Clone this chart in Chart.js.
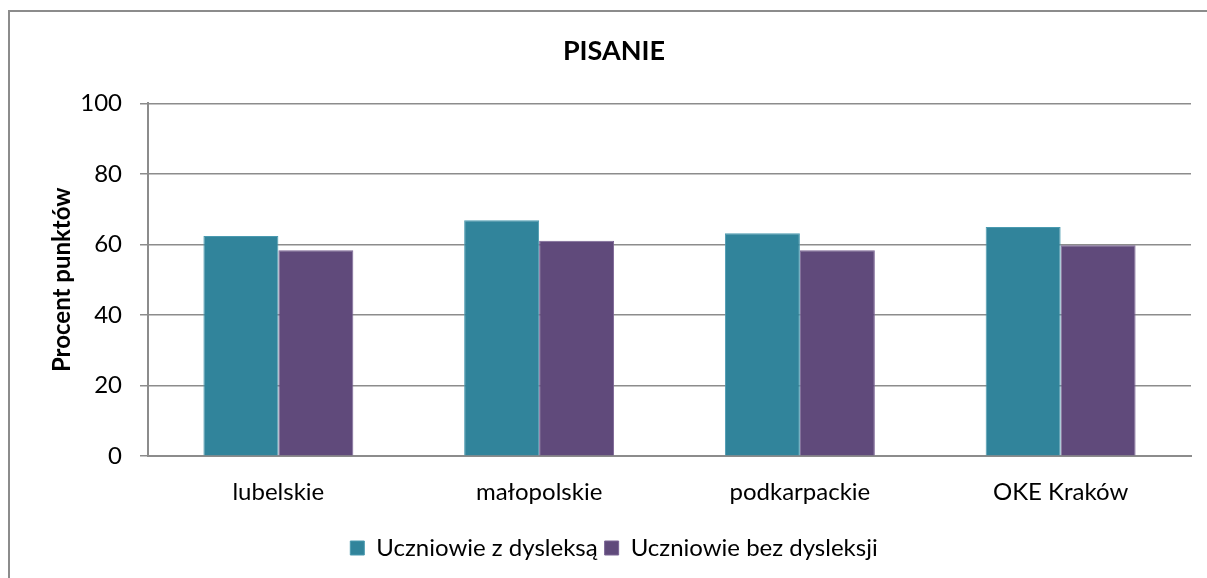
<!DOCTYPE html>
<html lang="pl">
<head>
    <meta charset="UTF-8">
    <title>PISANIE</title>
    <script src="https://cdn.jsdelivr.net/npm/chart.js"></script>
    <style>
        body { margin: 0; background: #fff; }
        #frame {
            position: absolute; left: 8px; top: 10px; width: 1300px; height: 700px;
            border-left: 2px solid #8c8c8c; border-top: 2px solid #8c8c8c;
        }
        #chart { position: absolute; left: 0; top: 0; }
    </style>
</head>
<body>
    <div id="frame"></div>
    <canvas id="chart" width="1207" height="578"></canvas>

    <script>
        const regions = ['lubelskie', 'małopolskie', 'podkarpackie', 'OKE Kraków'];
        const withDyslexia = [62.4, 66.9, 63.2, 65.0];
        const withoutDyslexia = [58.4, 61.1, 58.4, 59.8];
        const yTicks = [0, 20, 40, 60, 80, 100];

        const FONT = 'Lato, "Open Sans", sans-serif';
        const gridGray = '#8c8c8c';

        new Chart(document.getElementById('chart'), {
            type: 'bar',
            data: {
                labels: regions,
                datasets: [
                    {
                        label: 'Uczniowie z dysleksą',
                        data: withDyslexia,
                        backgroundColor: '#31849b',
                        borderColor: '#4a9ab0',
                        borderWidth: 1
                    },
                    {
                        label: 'Uczniowie bez dysleksji',
                        data: withoutDyslexia,
                        backgroundColor: '#604a7b',
                        borderColor: '#7a6494',
                        borderWidth: 1
                    }
                ]
            },
            options: {
                responsive: false,
                animation: false,
                categoryPercentage: 0.575,
                barPercentage: 1,
                layout: { padding: { left: 37, right: 16, top: 0, bottom: 8 } },
                plugins: {
                    title: {
                        display: true,
                        text: 'PISANIE',
                        color: '#000',
                        font: { family: FONT, size: 27, weight: 'bold' },
                        padding: { top: 35, bottom: 36 }
                    },
                    legend: {
                        position: 'bottom',
                        labels: {
                            color: '#000',
                            font: { family: FONT, size: 24 },
                            boxWidth: 14,
                            boxHeight: 14,
                            padding: 7
                        }
                    },
                    tooltip: { enabled: false }
                },
                scales: {
                    x: {
                        grid: { display: false, drawTicks: false, tickLength: 0 },
                        border: { display: true, color: gridGray, width: 2 },
                        ticks: { color: '#000', font: { family: FONT, size: 24 }, padding: 22 }
                    },
                    y: {
                        min: 0,
                        max: 100,
                        afterBuildTicks: scale => { scale.ticks = yTicks.map(v => ({ value: v })); },
                        afterFit: scale => { scale.width = 111; },
                        grid: { color: gridGray, lineWidth: 1.5, tickLength: 8 },
                        border: { display: true, color: gridGray, width: 2 },
                        ticks: { color: '#000', font: { family: FONT, size: 24 }, padding: 18 },
                        title: {
                            display: true,
                            text: 'Procent punktów',
                            color: '#000',
                            font: { family: FONT, size: 24, weight: 'bold' },
                            padding: { top: 11, bottom: 0 }
                        }
                    }
                }
            }
        });
    </script>
</body>
</html>
